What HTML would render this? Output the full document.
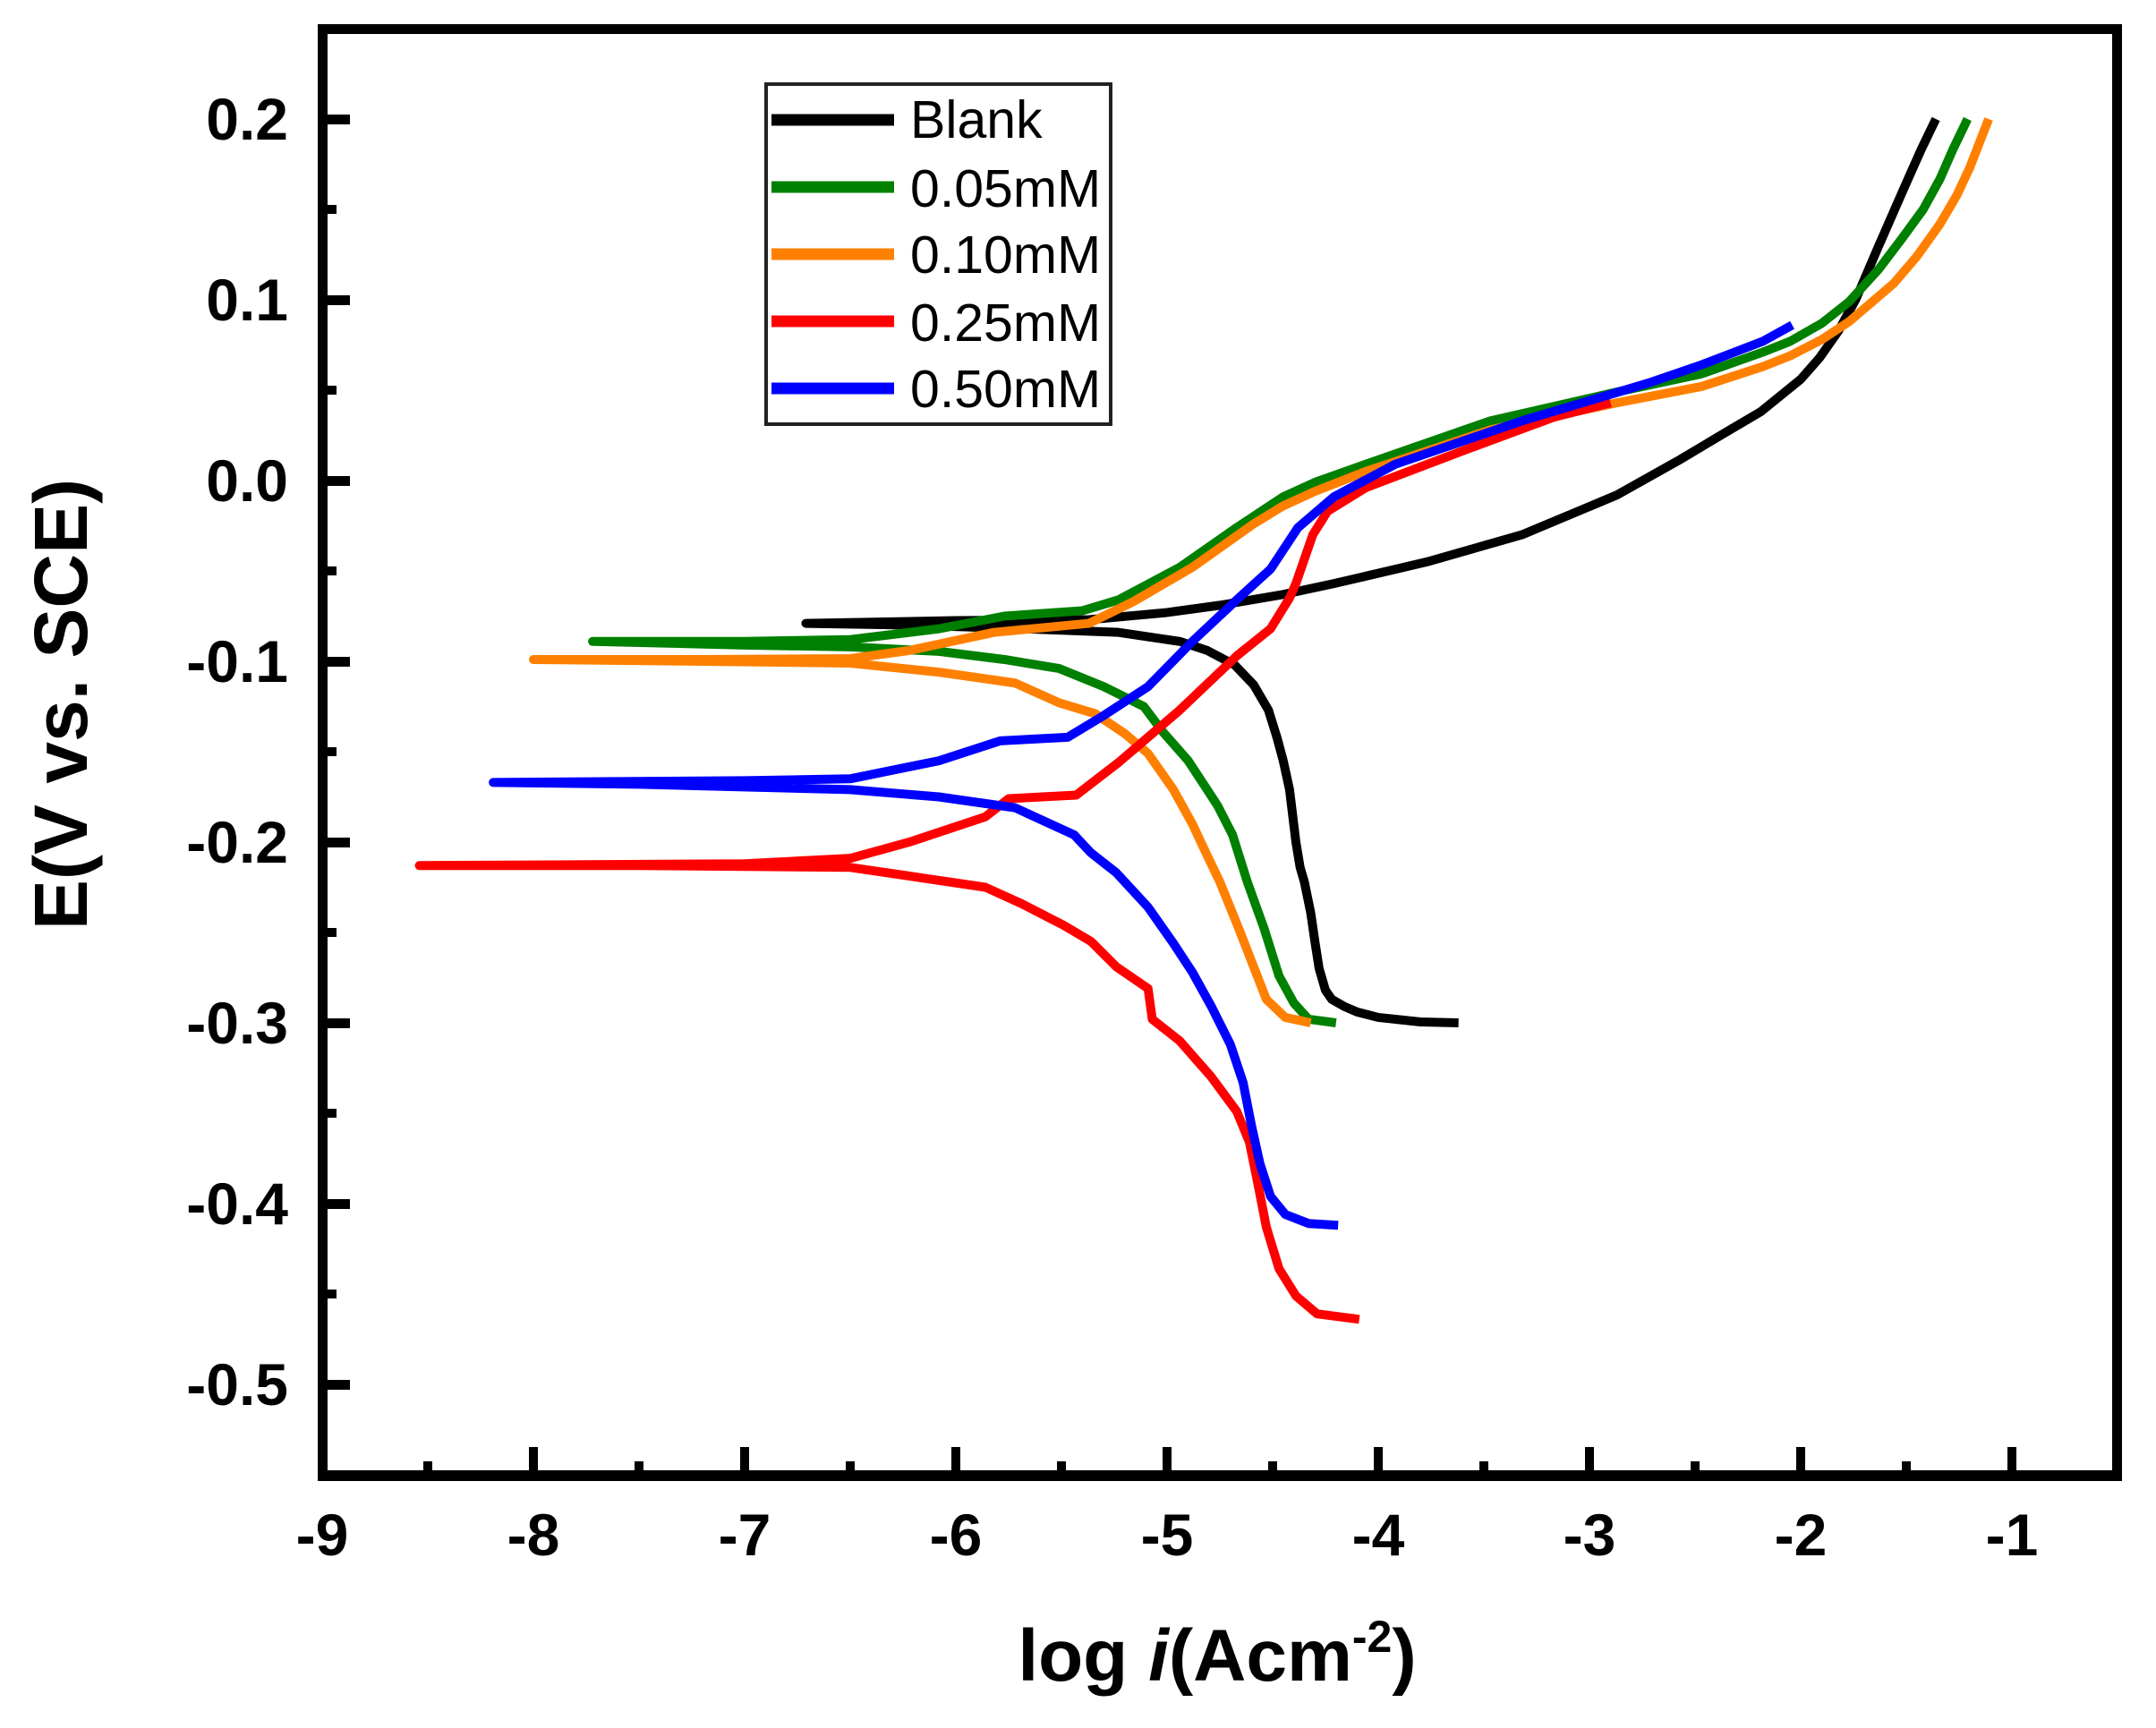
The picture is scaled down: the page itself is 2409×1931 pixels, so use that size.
<!DOCTYPE html>
<html>
<head>
<meta charset="utf-8">
<style>
html,body{margin:0;padding:0;background:#fff;}
svg{display:block;}
.tl{font-family:"Liberation Sans",Arial,sans-serif;font-weight:bold;font-size:66px;fill:#000;}
.lg{font-family:"Liberation Sans",Arial,sans-serif;font-size:59px;fill:#000;}
.ti{font-family:"Liberation Sans",Arial,sans-serif;font-weight:bold;fill:#000;}
.c{fill:none;stroke-width:10;stroke-linejoin:round;stroke-linecap:butt;}
</style>
</head>
<body>
<svg width="2409" height="1931" viewBox="0 0 2409 1931" xmlns="http://www.w3.org/2000/svg">
<rect x="0" y="0" width="2409" height="1931" fill="#fff"/>

<!-- curves in data coordinates -->
<g transform="translate(360,133) scale(236,-2020) translate(9,-0.2)">
<path class="c" vector-effect="non-scaling-stroke" stroke="#000000" d="M -3.62 -0.300 L -3.8 -0.2995 -4.0 -0.297 -4.10 -0.294 -4.16 -0.291 -4.22 -0.287 -4.25 -0.282 -4.28 -0.270 -4.30 -0.255 -4.32 -0.239 -4.35 -0.222 -4.37 -0.214 -4.39 -0.200 -4.42 -0.171 -4.45 -0.155 -4.48 -0.142 -4.52 -0.127 -4.59 -0.113 -4.68 -0.102 -4.81 -0.094 -4.94 -0.089 -5.23 -0.084 -5.68 -0.082 -6.2 -0.080 -6.71 -0.079 L -6.0 -0.0775 -5.37 -0.077 -5.0 -0.073 -4.75 -0.069 -4.45 -0.063 -4.21 -0.057 -3.77 -0.045 -3.32 -0.030 -2.87 -0.008 -2.58 0.011 -2.35 0.027 -2.19 0.038 -2.0 0.056 -1.91 0.068 -1.82 0.083 -1.74 0.100 -1.63 0.130 -1.51 0.162 -1.43 0.183 -1.36 0.200"/>
<path class="c" vector-effect="non-scaling-stroke" stroke="#008000" d="M -4.20 -0.300 L -4.33 -0.298 -4.40 -0.289 -4.47 -0.274 -4.54 -0.248 -4.62 -0.222 -4.69 -0.196 -4.76 -0.180 -4.81 -0.171 -4.90 -0.155 -5.02 -0.139 -5.11 -0.125 -5.30 -0.114 -5.51 -0.104 -5.77 -0.099 -6.08 -0.0945 -6.5 -0.092 -7.0 -0.091 -7.72 -0.089 L -7.0 -0.089 -6.5 -0.088 -6.08 -0.082 -5.77 -0.075 -5.40 -0.072 -5.23 -0.066 -4.94 -0.048 -4.67 -0.026 -4.45 -0.009 -4.30 -0.001 -4.06 0.009 -3.47 0.033 -2.87 0.049 -2.47 0.059 -2.18 0.071 -2.05 0.077 -1.90 0.087 -1.77 0.099 -1.63 0.117 -1.52 0.134 -1.42 0.150 -1.34 0.167 -1.28 0.183 -1.21 0.200"/>
<path class="c" vector-effect="non-scaling-stroke" stroke="#ff8000" d="M -4.32 -0.300 L -4.44 -0.297 -4.53 -0.287 -4.58 -0.272 -4.66 -0.248 -4.75 -0.222 -4.82 -0.205 -4.88 -0.190 -4.97 -0.171 -5.09 -0.151 -5.20 -0.140 -5.34 -0.129 -5.51 -0.123 -5.72 -0.112 -6.08 -0.106 -6.50 -0.101 -7.2 -0.100 -8.0 -0.099 L -7.2 -0.099 -6.50 -0.0985 -6.22 -0.094 -5.82 -0.084 -5.37 -0.079 -5.16 -0.067 -4.88 -0.048 -4.59 -0.024 -4.45 -0.014 -4.30 -0.006 -4.06 0.005 -3.47 0.028 -2.87 0.043 -2.47 0.052 -2.18 0.063 -2.05 0.069 -1.90 0.078 -1.77 0.088 -1.56 0.109 -1.45 0.124 -1.34 0.142 -1.26 0.158 -1.20 0.173 -1.11 0.200"/>
<path class="c" vector-effect="non-scaling-stroke" stroke="#ff0000" d="M -4.09 -0.464 L -4.29 -0.461 -4.39 -0.451 -4.47 -0.436 -4.53 -0.413 -4.57 -0.389 -4.61 -0.366 -4.67 -0.349 -4.79 -0.330 -4.94 -0.310 -5.07 -0.298 -5.09 -0.281 -5.24 -0.269 -5.36 -0.255 -5.49 -0.246 -5.69 -0.234 -5.86 -0.225 -6.15 -0.220 -6.50 -0.214 -7.5 -0.213 -8.54 -0.213 L -7.0 -0.212 -6.50 -0.209 -6.22 -0.200 -5.86 -0.186 -5.75 -0.176 -5.43 -0.174 -5.23 -0.156 -4.94 -0.127 -4.67 -0.097 -4.51 -0.082 -4.42 -0.065 -4.39 -0.057 -4.31 -0.030 -4.24 -0.017 -4.06 -0.004 -3.61 0.016 -3.17 0.035 -2.9 0.043"/>
<path class="c" vector-effect="non-scaling-stroke" stroke="#0000ff" d="M -4.19 -0.412 L -4.33 -0.411 -4.44 -0.406 -4.51 -0.396 -4.56 -0.378 -4.60 -0.357 -4.64 -0.333 -4.70 -0.312 -4.79 -0.291 -4.88 -0.272 -4.97 -0.256 -5.09 -0.236 -5.24 -0.217 -5.36 -0.206 -5.44 -0.196 -5.72 -0.181 -6.08 -0.175 -6.50 -0.171 -7.5 -0.168 -8.19 -0.167 L -7.0 -0.166 -6.50 -0.165 -6.08 -0.155 -5.79 -0.144 -5.47 -0.142 -5.30 -0.130 -5.09 -0.114 -4.88 -0.089 -4.67 -0.066 -4.51 -0.049 -4.38 -0.026 -4.21 -0.009 -3.92 0.009 -3.32 0.033 -2.72 0.054 -2.47 0.064 -2.18 0.077 -2.04 0.086"/>
</g>

<!-- axes frame -->
<g fill="#000">
<rect x="355" y="27" width="2016" height="11"/>
<rect x="355" y="1643" width="2016" height="12"/>
<rect x="355" y="27" width="11" height="1628"/>
<rect x="2360" y="27" width="11" height="1628"/>
</g>

<!-- y ticks -->
<g fill="#000">
<rect x="360" y="128" width="31" height="11"/>
<rect x="360" y="330" width="31" height="11"/>
<rect x="360" y="532" width="31" height="11"/>
<rect x="360" y="734" width="31" height="11"/>
<rect x="360" y="936" width="31" height="11"/>
<rect x="360" y="1138" width="31" height="11"/>
<rect x="360" y="1340" width="31" height="11"/>
<rect x="360" y="1542" width="31" height="11"/>
<rect x="360" y="229" width="16" height="10"/>
<rect x="360" y="431" width="16" height="10"/>
<rect x="360" y="633" width="16" height="10"/>
<rect x="360" y="835" width="16" height="10"/>
<rect x="360" y="1037" width="16" height="10"/>
<rect x="360" y="1239" width="16" height="10"/>
<rect x="360" y="1441" width="16" height="10"/>
</g>

<!-- x ticks -->
<g fill="#000">
<rect x="591" y="1617" width="10" height="32"/>
<rect x="827" y="1617" width="10" height="32"/>
<rect x="1063" y="1617" width="10" height="32"/>
<rect x="1299" y="1617" width="10" height="32"/>
<rect x="1535" y="1617" width="10" height="32"/>
<rect x="1771" y="1617" width="10" height="32"/>
<rect x="2007" y="1617" width="10" height="32"/>
<rect x="2243" y="1617" width="10" height="32"/>
<rect x="473" y="1633" width="10" height="16"/>
<rect x="709" y="1633" width="10" height="16"/>
<rect x="945" y="1633" width="10" height="16"/>
<rect x="1181" y="1633" width="10" height="16"/>
<rect x="1417" y="1633" width="10" height="16"/>
<rect x="1653" y="1633" width="10" height="16"/>
<rect x="1889" y="1633" width="10" height="16"/>
<rect x="2125" y="1633" width="10" height="16"/>
</g>

<!-- y tick labels -->
<g class="tl" text-anchor="end">
<text x="322" y="156">0.2</text>
<text x="322" y="358">0.1</text>
<text x="322" y="560">0.0</text>
<text x="322" y="762">-0.1</text>
<text x="322" y="964">-0.2</text>
<text x="322" y="1166">-0.3</text>
<text x="322" y="1368">-0.4</text>
<text x="322" y="1570">-0.5</text>
</g>

<!-- x tick labels -->
<g class="tl" text-anchor="middle">
<text x="360" y="1738">-9</text>
<text x="596" y="1738">-8</text>
<text x="832" y="1738">-7</text>
<text x="1068" y="1738">-6</text>
<text x="1304" y="1738">-5</text>
<text x="1540" y="1738">-4</text>
<text x="1776" y="1738">-3</text>
<text x="2012" y="1738">-2</text>
<text x="2248" y="1738">-1</text>
</g>

<!-- axis titles -->
<text class="ti" font-size="84" text-anchor="middle" transform="translate(97,787) rotate(-90)">E(V vs. SCE)</text>
<text class="ti" font-size="82" text-anchor="middle" x="1360" y="1878">log <tspan font-style="italic">i</tspan>(Acm<tspan font-size="50" dy="-32">-2</tspan><tspan dy="32">)</tspan></text>

<!-- legend -->
<rect x="856" y="94" width="385" height="380" fill="#fff" stroke="#222" stroke-width="4"/>
<g stroke-width="13">
<line x1="862" y1="134" x2="999" y2="134" stroke="#000000"/>
<line x1="862" y1="209" x2="999" y2="209" stroke="#008000"/>
<line x1="862" y1="284" x2="999" y2="284" stroke="#ff8000"/>
<line x1="862" y1="359" x2="999" y2="359" stroke="#ff0000"/>
<line x1="862" y1="434" x2="999" y2="434" stroke="#0000ff"/>
</g>
<g class="lg">
<text x="1017" y="154">Blank</text>
<text x="1017" y="231">0.05mM</text>
<text x="1017" y="305">0.10mM</text>
<text x="1017" y="381">0.25mM</text>
<text x="1017" y="455">0.50mM</text>
</g>
</svg>
</body>
</html>
